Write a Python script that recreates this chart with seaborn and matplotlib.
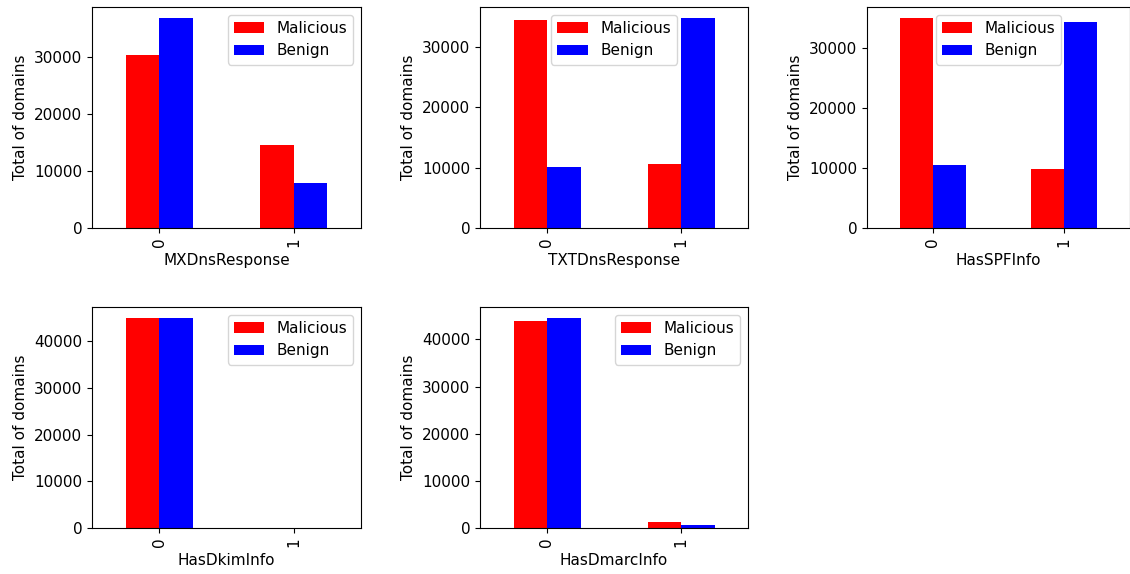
import numpy as np
import pandas as pd
import matplotlib
matplotlib.use("Agg")
import matplotlib.pyplot as plt
import seaborn as sns

features = ['MXDnsResponse', 'TXTDnsResponse', 'HasSPFInfo', 'HasDkimInfo', 'HasDmarcInfo']
levels = ['0', '1']
labels = ['Malicious', 'Benign']
# counts per feature value (0, 1)
malicious = {
    'MXDnsResponse': [30400, 14600],
    'TXTDnsResponse': [34500, 10650],
    'HasSPFInfo': [35150, 9800],
    'HasDkimInfo': [45050, 0],
    'HasDmarcInfo': [43950, 1300],
}
benign = {
    'MXDnsResponse': [36950, 7950],
    'TXTDnsResponse': [10100, 34900],
    'HasSPFInfo': [10550, 34400],
    'HasDkimInfo': [45050, 0],
    'HasDmarcInfo': [44650, 550],
}
colors = ['red', 'blue']

rows = []
for f in features:
    for i, lv in enumerate(levels):
        rows.append([f, lv, 'Malicious', malicious[f][i]])
        rows.append([f, lv, 'Benign', benign[f][i]])
df = pd.DataFrame(rows, columns=['feature', 'value', 'label', 'count'])

plt.rcParams['font.size'] = 11

W, H = 1130, 574
fig = plt.figure(figsize=(W / 100, H / 100), dpi=100)

# axes boxes in pixels: left, top, width
lefts = [92, 480, 867, 92, 480]
tops = [7, 7, 7, 307, 307]
widths = [269, 268, 263, 269, 268]
ax_h = 221

for f, l, t, w in zip(features, lefts, tops, widths):
    ax = fig.add_axes([l / W, (H - t - ax_h) / H, w / W, ax_h / H])
    sub = df[df['feature'] == f]
    sns.barplot(data=sub, x='value', y='count', hue='label', hue_order=labels,
                order=levels, palette=colors, saturation=1, width=0.5,
                errorbar=None, linewidth=0, ax=ax)
    old = ax.get_legend()
    handles = old.legend_handles
    texts = [t.get_text() for t in old.get_texts()]
    old.remove()
    ax.legend(handles, texts, loc='best')
    ax.set_xlabel(f)
    ax.set_ylabel('Total of domains')
    ax.tick_params(axis='x', labelrotation=90)

fig.savefig('out.png', dpi=100)
